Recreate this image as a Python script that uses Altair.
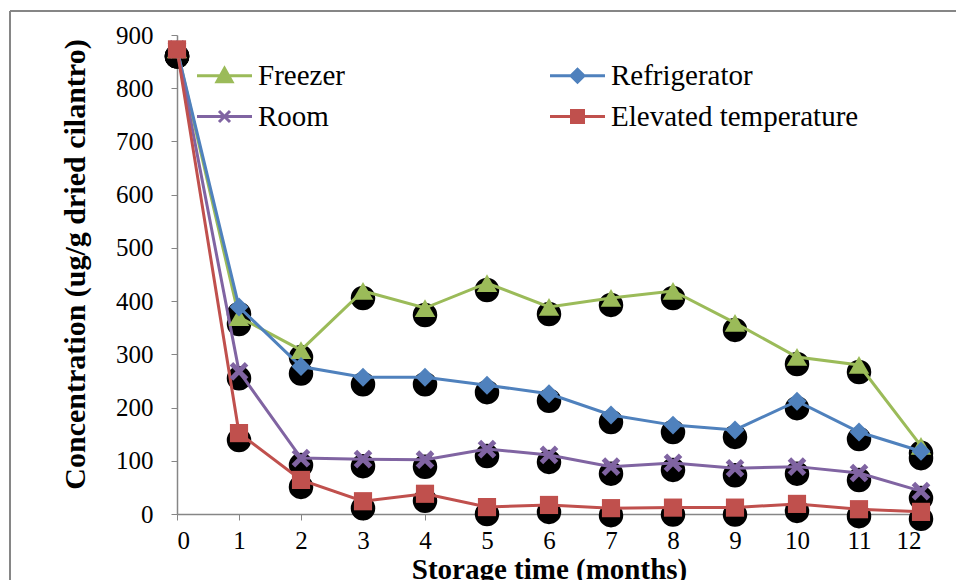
import altair as alt
import pandas as pd

# Storage months and mean concentration per storage condition
months = list(range(13))
freezer = [873, 370, 308, 419, 387, 434, 389, 406, 419, 359, 295, 280, 128]
refrigerator = [873, 389, 277, 257, 257, 242, 226, 186, 167, 158, 212, 154, 118]
room = [873, 268, 105, 103, 102, 122, 111, 89, 96, 86, 89, 77, 43]
elevated = [873, 152, 64, 24, 38, 13, 17, 11, 12, 12, 19, 9, 4]

series_names = ["Freezer", "Refrigerator", "Room", "Elevated temperature"]
series_colors = ["#9BBB59", "#4F81BD", "#8064A2", "#C0504D"]
y_ticks = [0, 100, 200, 300, 400, 500, 600, 700, 800, 900]

rows = []
for name, vals in zip(series_names, [freezer, refrigerator, room, elevated]):
    for m, v in zip(months, vals):
        rows.append({"month": m, "value": v, "series": name})
df = pd.DataFrame(rows)

FONT = "Liberation Serif"
AXIS_GREY = "#868686"

# legend is filled column by column: Freezer / Room, then Refrigerator / Elevated
legend_order = ["Freezer", "Room", "Refrigerator", "Elevated temperature"]
legend_colors = ["#9BBB59", "#8064A2", "#4F81BD", "#C0504D"]
# legend symbols: a line segment with the marker in its middle
legend_shapes = [
    "M-2.75,0L2.75,0M-0.75,0.6L0,-0.75L0.75,0.6Z",
    "M-2.75,0L2.75,0M-0.55,-0.55L0.55,0.55M-0.55,0.55L0.55,-0.55",
    "M-2.75,0L2.75,0M-0.65,0L0,-0.65L0.65,0L0,0.65Z",
    "M-2.75,0L2.75,0M-0.6,-0.6H0.6V0.6H-0.6Z",
]

x_enc = alt.X(
    "month:Q",
    scale=alt.Scale(domain=[0, 12], nice=False),
    axis=alt.Axis(
        values=months, title="Storage time (months)", grid=False,
        labelFontSize=25, labelFont=FONT, labelColor="black", labelPadding=8,
        tickSize=6, tickColor=AXIS_GREY, domainColor=AXIS_GREY, domainWidth=1.5,
        titleFont=FONT, titleFontSize=29, titleFontWeight="bold", titleColor="black",
        titlePadding=2,
    ),
)
y_enc = alt.Y(
    "value:Q",
    scale=alt.Scale(domain=[0, 900], nice=False),
    axis=alt.Axis(
        values=y_ticks, title="Concentration (ug/g dried cilantro)", grid=False,
        labelFontSize=25, labelFont=FONT, labelColor="black", labelPadding=18,
        tickSize=6, tickColor=AXIS_GREY, domainColor=AXIS_GREY, domainWidth=1.5,
        titleFont=FONT, titleFontSize=30, titleFontWeight="bold", titleColor="black",
        titlePadding=25, titleY=229,
    ),
)

series_scale = alt.Scale(domain=series_names, range=series_colors)

# dark halo drawn behind every marker, slightly below it
blobs = alt.Chart(df).mark_point(
    filled=True, shape="circle", color="black", opacity=1, yOffset=7
).encode(
    x=x_enc, y=y_enc,
    size=alt.Size("series:N", scale=alt.Scale(domain=series_names, range=[600, 600, 560, 720]),
                  legend=None),
)

lines = alt.Chart(df).mark_line(strokeWidth=3).encode(
    x=x_enc, y=y_enc,
    color=alt.Color("series:N", scale=series_scale, legend=None),
    detail="series:N",
)


def markers(name, shape, size, color, filled=True, stroke_width=1):
    return alt.Chart(df).transform_filter(alt.datum.series == name).mark_point(
        shape=shape, size=size, filled=filled, color=color, opacity=1,
        strokeWidth=stroke_width,
    ).encode(x=x_enc, y=y_enc)


freezer_pts = markers("Freezer", "triangle-up", 420, series_colors[0])
fridge_pts = markers("Refrigerator", "diamond", 360, series_colors[1])
room_pts = markers("Room", "M-1,-1L1,1M-1,1L1,-1", 230, series_colors[2],
                   filled=False, stroke_width=5)
elevated_pts = markers("Elevated temperature", "square", 330, series_colors[3])

legend_def = alt.Legend(
    title=None, orient="none", legendX=33, legendY=26, columns=2,
    symbolSize=400, symbolStrokeWidth=3, symbolOpacity=1,
    labelFont=FONT, labelFontSize=29, labelColor="black", labelLimit=400,
    labelOffset=19, columnPadding=199, rowPadding=11,
)
legend_layer = alt.Chart(df).transform_filter(alt.datum.month < 0).mark_point(
    filled=True, opacity=1
).encode(
    x=x_enc, y=y_enc,
    fill=alt.Fill("series:N", scale=alt.Scale(domain=legend_order, range=legend_colors), legend=legend_def),
    stroke=alt.Stroke("series:N", scale=alt.Scale(domain=legend_order, range=legend_colors), legend=legend_def),
    shape=alt.Shape("series:N", scale=alt.Scale(domain=legend_order, range=legend_shapes), legend=legend_def),
)

frame_top = alt.Chart(df).mark_rule(color=AXIS_GREY, strokeWidth=1.5).encode(
    x=alt.value(-167), x2=alt.value(779), y=alt.value(-24)
)
frame_left = alt.Chart(df).mark_rule(color=AXIS_GREY, strokeWidth=1.5).encode(
    x=alt.value(-167), y=alt.value(-24), y2=alt.value(545)
)

chart = alt.layer(
    frame_top, frame_left, blobs, lines,
    freezer_pts, fridge_pts, room_pts, elevated_pts, legend_layer,
).resolve_scale(size="independent").properties(
    width=744, height=479,
    padding={"left": 177, "top": 35, "right": 35, "bottom": 66},
    autosize=alt.AutoSizeParams(type="none"),
    background="white",
).configure_view(stroke=None)

chart.save("out.html", embed_options={"renderer": "svg", "actions": False})
